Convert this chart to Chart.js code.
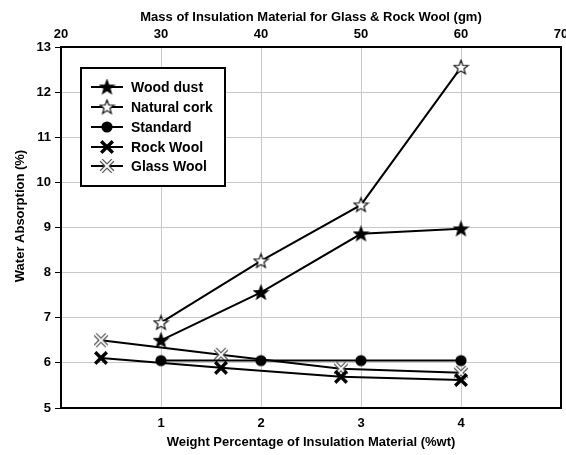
<!DOCTYPE html>
<html>
<head>
<meta charset="utf-8">
<script src="https://cdn.jsdelivr.net/npm/chart.js@4.4.1/dist/chart.umd.min.js"></script>
<style>
  html, body { margin: 0; padding: 0; background: #fff; }
  #wrap { width: 566px; height: 455px; }
</style>
</head>
<body>
<div id="wrap"><canvas id="c" width="566" height="455"></canvas></div>
<script>
// Water absorption vs. insulation content
const weightPct   = [1, 2, 3, 4];                  // %wt (bottom axis)
const woodDust    = [6.5, 7.56, 8.86, 8.97];
const naturalCork = [6.89, 8.26, 9.5, 12.55];
const standard    = [6.05, 6.05, 6.05, 6.05];

const woolMass    = [24, 36, 48, 60];              // gm (top axis)
const rockWool    = [6.11, 5.89, 5.69, 5.62];
const glassWool   = [6.5, 6.18, 5.87, 5.78];

const weightTicks = [1, 2, 3, 4];
const massTicks   = [20, 30, 40, 50, 60, 70];
const yTicks      = [5, 6, 7, 8, 9, 10, 11, 12, 13];

const seriesNames = ['Wood dust', 'Natural cork', 'Standard', 'Rock Wool', 'Glass Wool'];

const FONT = 'Liberation Sans, Arial, Helvetica, sans-serif';

// ---- marker images ----
function makeCanvas(size) {
  const c = document.createElement('canvas');
  c.width = size; c.height = size;
  return c;
}
function starMarker(fill) {
  const s = 17, c = makeCanvas(s), ctx = c.getContext('2d');
  const cx = s / 2, cy = s / 2 + 0.5, ro = 7.5, ri = 3.1;
  ctx.beginPath();
  for (let i = 0; i < 10; i++) {
    const r = i % 2 === 0 ? ro : ri;
    const a = -Math.PI / 2 + i * Math.PI / 5;
    const px = cx + r * Math.cos(a), py = cy + r * Math.sin(a);
    i === 0 ? ctx.moveTo(px, py) : ctx.lineTo(px, py);
  }
  ctx.closePath();
  ctx.fillStyle = fill;
  ctx.fill();
  ctx.lineWidth = 1.1;
  ctx.strokeStyle = '#000';
  ctx.stroke();
  return c;
}
function circleMarker() {
  const s = 14, c = makeCanvas(s), ctx = c.getContext('2d');
  ctx.beginPath();
  ctx.arc(s / 2, s / 2, 5.6, 0, Math.PI * 2);
  ctx.fillStyle = '#000';
  ctx.fill();
  return c;
}
function crossMarker(outline) {
  const s = 16, c = makeCanvas(s), ctx = c.getContext('2d');
  const h = 5.8, m = s / 2;
  const path = () => {
    ctx.beginPath();
    ctx.moveTo(m - h, m - h); ctx.lineTo(m + h, m + h);
    ctx.moveTo(m + h, m - h); ctx.lineTo(m - h, m + h);
  };
  if (outline) {
    path(); ctx.lineWidth = 4.2; ctx.strokeStyle = '#555'; ctx.stroke();
    path(); ctx.lineWidth = 1.8; ctx.strokeStyle = '#fff'; ctx.stroke();
  } else {
    path(); ctx.lineWidth = 3.4; ctx.strokeStyle = '#000'; ctx.stroke();
  }
  return c;
}

const markers = [
  starMarker('#000'),
  starMarker('#fff'),
  circleMarker(),
  crossMarker(false),
  crossMarker(true)
];

function pts(xs, ys) { return xs.map((x, i) => ({ x: x, y: ys[i] })); }

function series(i, data, xAxis) {
  return {
    label: seriesNames[i],
    data: data,
    xAxisID: xAxis,
    yAxisID: 'y',
    borderColor: '#000',
    backgroundColor: '#000',
    borderWidth: 2,
    pointStyle: markers[i],
    pointRadius: 6,
    pointHoverRadius: 6,
    tension: 0,
    clip: false
  };
}

// frame around the plot area
const framePlugin = {
  id: 'frame',
  beforeDatasetsDraw(chart) {
    const a = chart.chartArea, ctx = chart.ctx;
    ctx.save();
    ctx.lineWidth = 2;
    ctx.strokeStyle = '#000';
    ctx.strokeRect(a.left, a.top, a.right - a.left, a.bottom - a.top);
    ctx.restore();
  }
};

// legend box inside the plot, and rotated y-axis title
const legendPlugin = {
  id: 'boxLegend',
  afterDatasetsDraw(chart) {
    const ctx = chart.ctx;
    ctx.save();
    const bx = 81, by = 68, bw = 144, bh = 118;
    ctx.fillStyle = '#fff';
    ctx.fillRect(bx, by, bw, bh);
    ctx.lineWidth = 2;
    ctx.strokeStyle = '#000';
    ctx.strokeRect(bx, by, bw, bh);
    const rows = [87, 107, 127, 147, 166];
    ctx.font = 'bold 14px ' + FONT;
    ctx.textBaseline = 'middle';
    ctx.textAlign = 'left';
    seriesNames.forEach((name, i) => {
      const y = rows[i];
      ctx.beginPath();
      ctx.moveTo(91, y); ctx.lineTo(123, y);
      ctx.lineWidth = 2; ctx.strokeStyle = '#000';
      ctx.stroke();
      const m = markers[i];
      ctx.drawImage(m, 107 - m.width / 2, y - m.height / 2);
      ctx.fillStyle = '#000';
      ctx.fillText(name, 131, y + 1);
    });
    ctx.restore();
  },
  afterDraw(chart) {
    const ctx = chart.ctx;
    ctx.save();
    ctx.translate(20, 216);
    ctx.rotate(-Math.PI / 2);
    ctx.font = 'bold 13px ' + FONT;
    ctx.fillStyle = '#000';
    ctx.textAlign = 'center';
    ctx.textBaseline = 'middle';
    ctx.fillText('Water Absorption (%)', 0, 0);
    ctx.restore();
  }
};

const tickFont = { family: FONT, size: 13, weight: 'bold' };

// fixed side gaps for the horizontal axes, whatever the end labels need
function edgePadding(s) { s.paddingLeft = 0; s.paddingRight = 5; }

new Chart(document.getElementById('c'), {
  type: 'line',
  data: {
    datasets: [
      series(0, pts(weightPct, woodDust), 'x'),
      series(1, pts(weightPct, naturalCork), 'x'),
      series(2, pts(weightPct, standard), 'x'),
      series(3, pts(woolMass, rockWool), 'x2'),
      series(4, pts(woolMass, glassWool), 'x2')
    ]
  },
  options: {
    responsive: false,
    animation: false,
    devicePixelRatio: 1,
    layout: { padding: 0, autoPadding: false },
    plugins: {
      legend: { display: false },
      tooltip: { enabled: false }
    },
    scales: {
      x: {
        type: 'linear',
        position: 'bottom',
        min: 0, max: 5,
        afterBuildTicks(s) { s.ticks = weightTicks.map(v => ({ value: v })); },
        ticks: { font: tickFont, color: '#000', padding: 8 },
        grid: { color: '#c8c8c8', lineWidth: 1, drawTicks: false },
        border: { display: false },
        title: {
          display: true,
          text: 'Weight Percentage of Insulation Material (%wt)',
          font: tickFont, color: '#000',
          padding: { top: 2, bottom: 5 }
        },
        afterFit(s) { s.height = 47; edgePadding(s); }
      },
      x2: {
        type: 'linear',
        position: 'top',
        min: 20, max: 70,
        afterBuildTicks(s) { s.ticks = massTicks.map(v => ({ value: v })); },
        ticks: { font: tickFont, color: '#000', padding: 5 },
        grid: { display: false, drawTicks: false },
        border: { display: false },
        title: {
          display: true,
          text: 'Mass of Insulation Material for Glass & Rock Wool (gm)',
          font: tickFont, color: '#000',
          padding: { top: 10, bottom: 2 }
        },
        afterFit(s) { s.height = 47; edgePadding(s); }
      },
      y: {
        type: 'linear',
        position: 'left',
        min: 5, max: 13,
        afterBuildTicks(s) { s.ticks = yTicks.map(v => ({ value: v })); },
        ticks: { font: tickFont, color: '#000', padding: 4 },
        grid: { color: '#c8c8c8', lineWidth: 1, tickColor: '#000', tickLength: 6, drawTicks: true },
        border: { display: false },
        afterFit(s) { s.width = 61; }
      }
    }
  },
  plugins: [framePlugin, legendPlugin]
});
</script>
</body>
</html>
